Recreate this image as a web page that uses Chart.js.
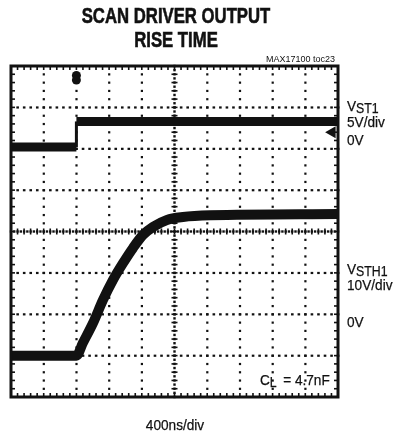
<!DOCTYPE html>
<html>
<head>
<meta charset="utf-8">
<script src="https://cdn.jsdelivr.net/npm/chart.js@4.4.1/dist/chart.umd.min.js"></script>
<style>
  html, body { margin: 0; padding: 0; background: #fff; }
  #wrap { position: relative; width: 401px; height: 434px; overflow: hidden; font-family: "Liberation Sans", Arial, sans-serif; color: #111; }
  #scope { position: absolute; left: 0; top: 0; }
  .t { position: absolute; white-space: nowrap; line-height: 1; }
  .title { left: 26px; width: 300px; top: 4px; text-align: center; font-size: 22px; line-height: 24px; font-weight: bold;
           transform: scaleX(0.76); transform-origin: center; -webkit-text-stroke: 0.6px #111; }
  .lbl { font-size: 15.5px; transform: scaleX(0.88); transform-origin: left; -webkit-text-stroke: 0.25px #111; }
  .lbl sub { font-size: 14px; vertical-align: baseline; position: relative; top: 2px; }
  .tag { font-size: 9px; right: 66px; top: 55px; }
</style>
</head>
<body>
<div id="wrap">
  <canvas id="scope" width="401" height="434"></canvas>
  <div class="t title">SCAN DRIVER OUTPUT<br>RISE TIME</div>
  <div class="t tag">MAX17100 toc23</div>

  <div class="t lbl" style="left:347px; top:98px">V<sub>ST1</sub></div>
  <div class="t lbl" style="left:347px; top:114px">5V/div</div>
  <div class="t lbl" style="left:347px; top:132px">0V</div>

  <div class="t lbl" style="left:347px; top:261px">V<sub>STH1</sub></div>
  <div class="t lbl" style="left:347px; top:277px">10V/div</div>
  <div class="t lbl" style="left:347px; top:314px">0V</div>

  <div class="t lbl" style="left:260px; top:372px">C<sub style="margin-right:3px">L</sub> = 4.7nF</div>
  <div class="t lbl" style="left:25px; width:300px; text-align:center; top:417px; transform-origin:center">400ns/div</div>
</div>

<script>
// graticule: 10 x 8 divisions
const xDivs = [0, 1, 2, 3, 4, 5, 6, 7, 8, 9, 10];
const yDivs = [-4, -3, -2, -1, 0, 1, 2, 3, 4];

// channel 1 (VST1) step, in divisions
const ch1Time  = [0, 2.0, 2.0, 10];
const ch1Level = [2.04, 2.04, 2.66, 2.66];

// channel 2 (VSTH1) rise, in divisions
const ch2Time  = [0, 2.0, 2.2, 2.51, 2.81, 3.12, 3.43, 3.73, 4.04, 4.34, 4.77, 5.26, 6.09, 10];
const ch2Level = [-3.0, -3.0, -2.69, -2.21, -1.66, -1.17, -0.76, -0.40, -0.08, 0.11, 0.28, 0.35, 0.39, 0.42];

// trigger marker (top) and channel 1 ground marker (right edge)
const trigTime = [2.0, 2.0];
const trigLevel = [3.77, 3.66];
const gndTime = [9.82];
const gndLevel = [2.40];

const pts = (xs, ys) => xs.map((x, i) => ({ x: x, y: ys[i] }));

const graticule = {
    id: 'graticule',
    beforeDatasetsDraw(chart) {
        const { ctx, chartArea: a, scales: { x, y } } = chart;
        const px = v => x.getPixelForValue(v);
        const py = v => y.getPixelForValue(v);
        ctx.save();
        ctx.fillStyle = '#111';

        // dotted division lines
        xDivs.slice(1, -1).forEach(d => {
            if (d === 5) return;
            for (let v = yDivs[0] + 0.2; v < yDivs[yDivs.length - 1]; v += 0.2) ctx.fillRect(px(d) - 1, py(v) - 1, 2.2, 2.2);
        });
        yDivs.slice(1, -1).forEach(d => {
            if (d === 0) return;
            for (let v = xDivs[0] + 0.2; v < xDivs[xDivs.length - 1]; v += 0.2) ctx.fillRect(px(v) - 1.2, py(d) - 1, 2.6, 2.2);
        });

        // centre lines with minor ticks
        const cx = px(5), cy = py(0);
        for (let v = -4; v <= 4.001; v += 0.1) ctx.fillRect(cx - 1.2, py(v) - 1.2, 2.4, 2.4);
        for (let v = -4; v <= 4.001; v += 0.2) ctx.fillRect(cx - 3, py(v) - 0.8, 6, 1.6);
        for (let v = 0; v <= 10.001; v += 0.1) ctx.fillRect(px(v) - 1.2, cy - 1.2, 2.4, 2.4);
        for (let v = 0; v <= 10.001; v += 0.2) ctx.fillRect(px(v) - 0.8, cy - 3, 1.6, 6);

        // small ticks inside the frame
        for (let v = 0.2; v < 10; v += 0.2) {
            ctx.fillRect(px(v) - 0.8, a.top, 1.6, 4);
            ctx.fillRect(px(v) - 0.8, a.bottom - 4, 1.6, 4);
        }
        for (let v = -3.8; v < 4; v += 0.2) {
            ctx.fillRect(a.left, py(v) - 0.8, 4, 1.6);
            ctx.fillRect(a.right - 4, py(v) - 0.8, 4, 1.6);
        }
        ctx.restore();
    },
    afterDatasetsDraw(chart) {
        const { ctx, chartArea: a } = chart;
        ctx.save();
        ctx.strokeStyle = '#111';
        ctx.lineWidth = 3;
        ctx.strokeRect(a.left, a.top, a.right - a.left, a.bottom - a.top);
        ctx.restore();
    }
};

new Chart(document.getElementById('scope'), {
    type: 'scatter',
    data: {
        datasets: [
            {
                data: pts(ch1Time, ch1Level),
                showLine: true,
                borderColor: '#111',
                borderWidth: 9,
                pointRadius: 0,
                segment: { borderWidth: c => c.p0.parsed.x === c.p1.parsed.x ? 3 : 9 }
            },
            {
                data: pts(ch2Time, ch2Level),
                showLine: true,
                borderColor: '#111',
                borderWidth: 10,
                borderJoinStyle: 'round',
                cubicInterpolationMode: 'monotone',
                pointRadius: 0
            },
            {
                data: pts(trigTime, trigLevel),
                pointStyle: 'circle',
                pointRadius: 4.5,
                backgroundColor: '#111',
                borderWidth: 0
            },
            {
                data: pts(gndTime, gndLevel),
                pointStyle: 'triangle',
                rotation: -90,
                pointRadius: 7,
                backgroundColor: '#111',
                borderWidth: 0
            }
        ]
    },
    options: {
        responsive: false,
        animation: false,
        events: [],
        layout: { padding: { left: 11, top: 66, right: 63, bottom: 37 } },
        plugins: { legend: { display: false }, tooltip: { enabled: false } },
        scales: {
            x: { type: 'linear', display: false, min: xDivs[0], max: xDivs[xDivs.length - 1] },
            y: { type: 'linear', display: false, min: yDivs[0], max: yDivs[yDivs.length - 1] }
        }
    },
    plugins: [graticule]
});
</script>
</body>
</html>
